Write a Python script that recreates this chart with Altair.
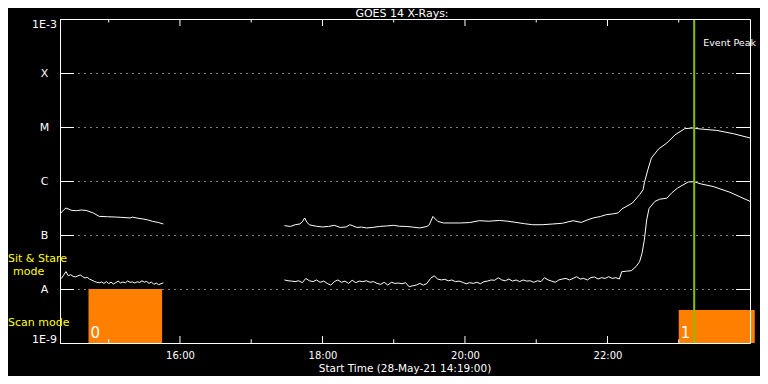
import altair as alt
import pandas as pd

start = pd.Timestamp("2021-05-28 14:19:00")

# ---- GOES long channel (upper curve), minutes after start, flux in 1e-7 W/m^2
long1_min = [0, 3, 5, 10, 14, 18, 22, 28, 33, 40, 47, 52, 59, 61, 65, 70, 74, 78, 83, 87]
long1_val = [2.45, 2.90, 3.16, 2.85, 2.82, 2.90, 2.85, 2.56, 2.21, 2.18, 2.15, 2.12, 2.07, 2.15, 2.05,
             1.98, 1.90, 1.79, 1.70, 1.60]
long2_min = [189, 194, 198, 202, 204, 206, 208, 210, 213, 216, 221, 226, 231, 236, 241, 244, 246, 250,
             254, 258, 263, 269, 275, 281, 286, 292, 297, 303, 309, 311, 314, 318, 323, 337, 345, 353,
             361, 370, 377, 384, 391, 398, 406, 415, 423, 432, 439, 444, 449, 455, 460, 465, 470, 473,
             482, 488, 491, 492, 495, 498, 504, 511, 518, 526, 533, 539, 553, 567, 581]
long2_val = [1.49, 1.44, 1.55, 1.60, 1.75, 2.07, 1.70, 1.55, 1.49, 1.45, 1.41, 1.44, 1.51, 1.38, 1.41,
             1.55, 1.50, 1.38, 1.40, 1.35, 1.38, 1.44, 1.47, 1.51, 1.45, 1.44, 1.40, 1.35, 1.44, 1.55,
             2.21, 1.79, 1.67, 1.67, 1.70, 1.84, 1.80, 1.86, 1.80, 1.71, 1.62, 1.55, 1.55, 1.60, 1.65,
             1.84, 1.71, 1.90, 2.07, 2.20, 2.38, 2.45, 2.56, 3.03, 3.91, 5.58, 6.9, 9.2, 16.2, 26.7,
             39.1, 50.5, 72, 93, 96, 92, 86.5, 75.2, 62.6]

# ---- GOES short channel (lower curve), minutes after start, flux in 1e-8 W/m^2
short1_min = [1, 3, 5, 7, 9, 11, 13, 15, 17, 19, 21, 23, 25, 27, 29, 31, 33, 35, 37, 39, 41, 43, 45,
              47, 49, 51, 53, 55, 57, 59, 61, 63, 65, 67, 69, 71, 73, 75, 77, 79, 81, 83, 85, 87]
short1_val = [1.55, 1.80, 2.10, 1.76, 1.84, 1.72, 1.67, 1.75, 1.82, 1.70, 1.60, 1.64, 1.52, 1.45, 1.38,
              1.33, 1.30, 1.35, 1.27, 1.37, 1.26, 1.34, 1.24, 1.31, 1.40, 1.29, 1.35, 1.30, 1.41, 1.33,
              1.35, 1.29, 1.36, 1.32, 1.42, 1.34, 1.38, 1.27, 1.35, 1.22, 1.29, 1.20, 1.25, 1.30]
short2_min = [189, 192, 195, 198, 201, 204, 207, 210, 213, 216, 219, 222, 225, 228, 231, 234, 237, 240,
              243, 246, 249, 252, 255, 258, 261, 264, 267, 270, 273, 276, 279, 282, 285, 288, 291, 294,
              297, 300, 303, 306, 309, 312, 315, 318, 321, 324, 327, 330, 333, 336, 339, 342, 345, 348,
              351, 354, 357, 360, 363, 366, 369, 372, 375, 378, 381, 384, 387, 390, 393, 396, 399, 402,
              405, 408, 411, 414, 417, 420, 423, 426, 429, 432, 435, 438, 441, 444, 447, 450, 453, 456,
              459, 462, 465, 468, 471, 473, 477, 481, 485, 488, 490, 492, 494, 496, 501, 505, 511, 515,
              520, 529, 534, 539, 550, 564, 581]
short2_val = [1.47, 1.42, 1.40, 1.37, 1.42, 1.31, 1.57, 1.42, 1.37, 1.47, 1.33, 1.40, 1.27, 1.18, 1.37,
              1.47, 1.33, 1.40, 1.27, 1.45, 1.31, 1.40, 1.37, 1.42, 1.33, 1.37, 1.27, 1.22, 1.33, 1.18,
              1.33, 1.27, 1.29, 1.25, 1.31, 1.10, 1.15, 1.18, 1.27, 1.18, 1.27, 1.57, 1.76, 1.53, 1.47,
              1.51, 1.42, 1.47, 1.37, 1.40, 1.33, 1.25, 1.31, 1.27, 1.33, 1.25, 1.37, 1.40, 1.47, 1.45,
              1.62, 1.47, 1.42, 1.53, 1.40, 1.47, 1.37, 1.47, 1.40, 1.42, 1.33, 1.42, 1.37, 1.62, 1.47,
              1.40, 1.33, 1.47, 1.53, 1.57, 1.47, 1.57, 1.69, 1.53, 1.57, 1.47, 1.62, 1.67, 1.53, 1.62,
              1.57, 1.69, 1.57, 1.62, 1.53, 2.09, 2.14, 2.18, 2.6, 3.2, 4.5, 8.0, 19, 31, 42, 46, 48, 60,
              74, 96, 97, 89, 79, 62, 42]

# ---- mode bars
mode_start = ["2021-05-28T14:43:00", "2021-05-28T23:00:00"]
mode_end = ["2021-05-28T15:45:00", "2021-05-29T00:04:00"]
mode_top = [1e-8, 4.1e-9]
mode_label = ["0", "1"]

peak_time = ["2021-05-28T23:13:00"]

tick_vals = [1e-3, 1e-4, 1e-5, 1e-6, 1e-7, 1e-8, 1e-9]
tick_labels = ["1E-3", "X", "M", "C", "B", "A", "1E-9"]
major_hours = [16, 18, 20, 22]
minor_hours = [15, 17, 19, 21, 23]

FONT = "DejaVu Sans"
GREEN = "#88c000"
ORANGE = "#ff8000"

rows = []
for name, mins, vals, unit in [("long1", long1_min, long1_val, 1e-7),
                               ("long2", long2_min, long2_val, 1e-7),
                               ("short1", short1_min, short1_val, 1e-8),
                               ("short2", short2_min, short2_val, 1e-8)]:
    for m, v in zip(mins, vals):
        rows.append({"t": start + pd.Timedelta(minutes=m), "flux": v * unit, "series": name})
df = pd.DataFrame(rows)

modes = pd.DataFrame({"start": mode_start, "end": mode_end, "top": mode_top,
                      "base": [1e-9] * len(mode_start), "label": mode_label})
peak = pd.DataFrame({"t": peak_time, "label": ["Event Peak"]})
ticks_y = pd.DataFrame({"v": tick_vals})
major = pd.DataFrame({"t": [f"2021-05-28T{h:02d}:00:00" for h in major_hours]})
minor = pd.DataFrame({"t": [f"2021-05-28T{h:02d}:00:00" for h in minor_hours]})

xs = alt.Scale(domain=[alt.DateTime(year=2021, month=5, date=28, hours=14, minutes=19),
                       alt.DateTime(year=2021, month=5, date=29, hours=0, minutes=0)], nice=False)
ys = alt.Scale(type="log", domain=[1e-9, 1e-3], nice=False)

expr = ""
for v, lab in zip(tick_vals[:-1], tick_labels[:-1]):
    expr += f"datum.value > {v / 2!r} ? '{lab}' : "
expr += f"'{tick_labels[-1]}'"

x_bottom = alt.Axis(orient="bottom",
                    values=[alt.DateTime(year=2021, month=5, date=28, hours=h) for h in major_hours],
                    format="%H:%M", labelFont=FONT, labelFontSize=10, labelColor="white",
                    labelPadding=7, labelAngle=0, ticks=False, tickSize=0, domain=True,
                    domainColor="white", grid=False, title=None, zindex=1)
y_left = alt.Axis(orient="left", values=tick_vals, labelExpr=expr, labelFont=FONT, labelFontSize=11,
                  labelColor="white", labelAlign="center", labelPadding=16, labelFlush=True,
                  labelFlushOffset=1, labelOverlap=False, ticks=False, tickSize=0, domain=True,
                  domainColor="white", grid=True, gridColor="white", gridDash=[1, 5], gridWidth=1,
                  gridOpacity=1, title=None, zindex=0)
y_right = alt.Axis(orient="right", values=tick_vals, labels=False, ticks=False, grid=False,
                   domain=True, domainColor="white", title=None, zindex=1)
x_top = alt.Axis(orient="top", labels=False, ticks=False, grid=False, domain=True,
                 domainColor="white", title=None, zindex=1)

rects = alt.Chart(modes).mark_rect(color=ORANGE).encode(
    x=alt.X("start:T", scale=xs, axis=None), x2="end:T",
    y=alt.Y("top:Q", scale=ys, axis=None), y2="base:Q")
rect_labels = alt.Chart(modes).mark_text(color="white", font=FONT, fontSize=15, align="left",
                                         baseline="alphabetic", dx=2, dy=-5).encode(
    x=alt.X("start:T", scale=xs, axis=None), y=alt.Y("base:Q", scale=ys, axis=None), text="label:N")

lines = alt.Chart(df).mark_line(color="white", strokeWidth=1).encode(
    x=alt.X("t:T", scale=xs, axis=x_bottom),
    y=alt.Y("flux:Q", scale=ys, axis=y_left),
    detail="series:N")

peak_rule = alt.Chart(peak).mark_rule(color=GREEN, strokeWidth=2).encode(
    x=alt.X("t:T", scale=xs, axis=None))
peak_text = alt.Chart(peak).mark_text(color="white", font=FONT, fontSize=9.5, align="left",
                                      baseline="middle", dx=9).encode(
    x=alt.X("t:T", scale=xs, axis=None), y=alt.value(24), text="label:N")

ytick_left = alt.Chart(ticks_y).mark_rule(color="white", yOffset=0.5).encode(
    y=alt.Y("v:Q", scale=ys, axis=None), x=alt.value(0), x2=alt.value(14))
ytick_right = alt.Chart(ticks_y).mark_rule(color="white", yOffset=0.5).encode(
    y=alt.Y("v:Q", scale=ys, axis=y_right), x=alt.value(676), x2=alt.value(690))

xt_bmaj = alt.Chart(major).mark_rule(color="white").encode(
    x=alt.X("t:T", scale=xs, axis=None), y=alt.value(317), y2=alt.value(324))
xt_bmin = alt.Chart(minor).mark_rule(color="white").encode(
    x=alt.X("t:T", scale=xs, axis=None), y=alt.value(320.3), y2=alt.value(324))
xt_tmaj = alt.Chart(major).mark_rule(color="white").encode(
    x=alt.X("t:T", scale=xs, axis=x_top), y=alt.value(0), y2=alt.value(7))
xt_tmin = alt.Chart(minor).mark_rule(color="white").encode(
    x=alt.X("t:T", scale=xs, axis=None), y=alt.value(0), y2=alt.value(3.5))


def label(text, x, y, size, color="white", align="left", baseline="middle"):
    return alt.Chart(pd.DataFrame({"label": [text]})).mark_text(
        color=color, font=FONT, fontSize=size, align=align, baseline=baseline).encode(
        x=alt.value(x), y=alt.value(y), text="label:N")


title = label("GOES 14 X-Rays:", 342, -2.5, 11, align="center", baseline="alphabetic")
xtitle = label("Start Time (28-May-21 14:19:00)", 345, 353, 10.5, align="center", baseline="alphabetic")
sit1 = label("Sit & Stare", -52, 240, 11, color="#ffff00")
sit2 = label("mode", -47, 252.7, 11, color="#ffff00")
scan = label("Scan mode", -52, 304.2, 11, color="#ffff00")

chart = alt.layer(
    lines, rects, rect_labels, peak_rule, peak_text,
    ytick_left, ytick_right, xt_bmaj, xt_bmin, xt_tmaj, xt_tmin,
    title, xtitle, sit1, sit2, scan
).properties(
    width=690, height=324,
    padding={"left": 52, "top": 11, "right": 10, "bottom": 33},
    autosize=alt.AutoSizeParams(type="none"),
    background="black"
).configure_view(strokeWidth=0)

chart.save("out.html", embed_options={"renderer": "svg", "actions": False})
